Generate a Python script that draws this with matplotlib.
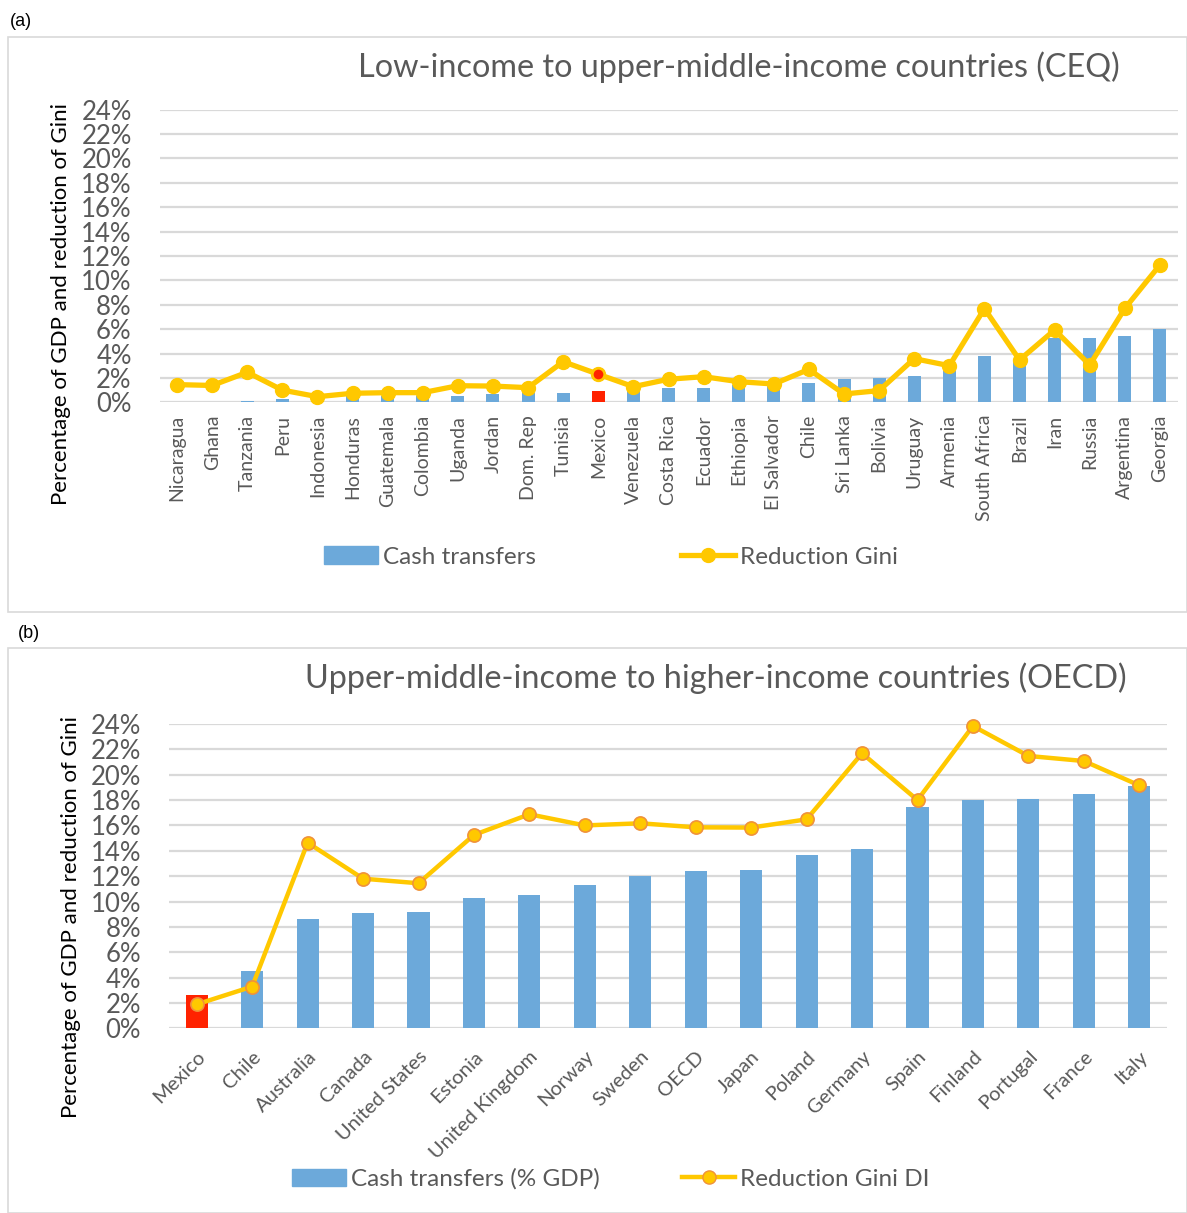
import matplotlib
matplotlib.use("Agg")
import matplotlib.pyplot as plt
from matplotlib.lines import Line2D
from matplotlib.patches import Patch, Rectangle
from matplotlib.ticker import MultipleLocator, PercentFormatter

plt.rcParams["font.family"] = ["Lato", "DejaVu Sans"]

# panel (a): CEQ countries
CEQ_COUNTRIES = [
    "Nicaragua", "Ghana", "Tanzania", "Peru", "Indonesia", "Honduras",
    "Guatemala", "Colombia", "Uganda", "Jordan", "Dom. Rep", "Tunisia",
    "Mexico", "Venezuela", "Costa Rica", "Ecuador", "Ethiopia", "El Salvador",
    "Chile", "Sri Lanka", "Bolivia", "Uruguay", "Armenia", "South Africa",
    "Brazil", "Iran", "Russia", "Argentina", "Georgia",
]
CEQ_CASH = [
    0.05, 0.05, 0.1, 0.3, 0.3, 0.5, 0.55, 0.55, 0.54, 0.7, 0.75, 0.76,
    0.93, 1.2, 1.15, 1.15, 1.4, 1.4, 1.56, 1.89, 2.0, 2.19, 2.6, 3.77,
    3.3, 5.25, 5.25, 5.44, 6.01,
]
CEQ_GINI = [
    1.45, 1.38, 2.46, 1.0, 0.46, 0.74, 0.79, 0.79, 1.36, 1.33, 1.2, 3.33,
    2.3, 1.28, 1.89, 2.1, 1.69, 1.5, 2.7, 0.68, 0.96, 3.58, 3.0, 7.68,
    3.47, 5.93, 3.06, 7.7, 11.26,
]

# panel (b): OECD countries
OECD_COUNTRIES = [
    "Mexico", "Chile", "Australia", "Canada", "United States", "Estonia",
    "United Kingdom", "Norway", "Sweden", "OECD", "Japan", "Poland",
    "Germany", "Spain", "Finland", "Portugal", "France", "Italy",
]
OECD_CASH = [
    2.63, 4.52, 8.6, 9.12, 9.17, 10.28, 10.52, 11.33, 12.04, 12.41, 12.46,
    13.67, 14.12, 17.48, 18.0, 18.09, 18.48, 19.11,
]
OECD_GINI = [
    1.89, 3.29, 14.64, 11.8, 11.44, 15.25, 16.88, 16.0, 16.17, 15.85, 15.83,
    16.48, 21.69, 18.0, 23.84, 21.48, 21.08, 19.16,
]

HIGHLIGHT = "Mexico"
BLUE = "#6CA9DA"
RED = "#FF2200"
GOLD = "#FFC800"
ORANGE = "#F0923A"
GRID = "#D9D9D9"
TEXT = "#595959"

W, H = 1187, 1213


def fx(px):
    return px / W


def fy(py):
    return 1 - py / H


def style_axes(ax, ncat, label_xy):
    ax.set_xlim(-0.5, ncat - 0.5)
    ax.set_ylim(0, 24)
    ax.yaxis.set_major_locator(MultipleLocator(2))
    ax.yaxis.set_major_formatter(PercentFormatter(decimals=0))
    ax.grid(axis="y", color=GRID, lw=1.6)
    ax.set_axisbelow(True)
    for s in ax.spines.values():
        s.set_visible(False)
    ax.tick_params(axis="both", length=0, colors=TEXT)
    ax.tick_params(axis="y", labelsize=18.5, pad=20)
    ax.set_ylabel("Percentage of GDP and reduction of Gini", fontsize=16)
    ax.yaxis.set_label_coords(*label_xy)


fig = plt.figure(figsize=(W / 100, H / 100), dpi=100)

# frames
for top, bottom in [(37, 612), (648, 1213)]:
    fig.patches.append(Rectangle((fx(8), fy(bottom)), fx(1187 - 8), (bottom - top) / H,
                                 transform=fig.transFigure, fill=False,
                                 ec=GRID, lw=1.2))
fig.text(fx(10), fy(22), "(a)", fontsize=13, family="Liberation Sans", va="center")
fig.text(fx(18), fy(633), "(b)", fontsize=13, family="Liberation Sans", va="center")

# ---- panel (a)
ax1 = fig.add_axes([fx(159.5), fy(402.3), fx(1018), 292.8 / H])
xa = range(len(CEQ_COUNTRIES))
cols_a = [RED if c == HIGHLIGHT else BLUE for c in CEQ_COUNTRIES]
ax1.bar(xa, CEQ_CASH, width=0.37, color=cols_a, zorder=2)
ax1.plot(xa, CEQ_GINI, color=GOLD, lw=3.8, marker="o", ms=10, mfc=GOLD,
         mec=GOLD, zorder=3, clip_on=False)
hi = CEQ_COUNTRIES.index(HIGHLIGHT)
ax1.plot([hi], [CEQ_GINI[hi]], "o", ms=8.5, mfc=RED, mec=GOLD, mew=1.5, zorder=4)
style_axes(ax1, len(CEQ_COUNTRIES), (-0.087, 0.336))
ax1.set_xticks(list(xa))
ax1.set_xticklabels(CEQ_COUNTRIES, rotation=90, fontsize=14, va="top")
ax1.tick_params(axis="x", pad=9)
fig.text(fx(739), fy(67), "Low-income to upper-middle-income countries (CEQ)",
         fontsize=23.3, color=TEXT, ha="center", va="center")

fig.legend(handles=[Patch(color=BLUE, label="Cash transfers"),
                    Line2D([], [], color=GOLD, lw=3.8, marker="o", ms=10,
                           label="Reduction Gini")],
           loc="center", bbox_to_anchor=(fx(611), fy(557)), ncol=2,
           frameon=False, fontsize=17.5, labelcolor=TEXT, handlelength=2.2,
           handletextpad=0.2, columnspacing=6.0)

# ---- panel (b)
ax2 = fig.add_axes([fx(169), fy(1028.3), fx(998), 304.3 / H])
xb = range(len(OECD_COUNTRIES))
cols_b = [RED if c == HIGHLIGHT else BLUE for c in OECD_COUNTRIES]
ax2.bar(xb, OECD_CASH, width=0.4, color=cols_b, zorder=2)
ax2.plot(xb, OECD_GINI, color=GOLD, lw=3.2, marker="o", ms=9.5, mfc=GOLD,
         mec=ORANGE, mew=1.2, zorder=3, clip_on=False)
style_axes(ax2, len(OECD_COUNTRIES), (-0.088, 0.366))
ax2.set_xticks(list(xb))
ax2.set_xticklabels(OECD_COUNTRIES, rotation=45, fontsize=14.5, ha="right",
                    va="top", rotation_mode="anchor")
ax2.tick_params(axis="x", pad=14)
fig.text(fx(716), fy(678), "Upper-middle-income to higher-income countries (OECD)",
         fontsize=23.3, color=TEXT, ha="center", va="center")

fig.legend(handles=[Patch(color=BLUE, label="Cash transfers (% GDP)"),
                    Line2D([], [], color=GOLD, lw=3.2, marker="o", ms=9.5,
                           mec=ORANGE, label="Reduction Gini DI")],
           loc="center", bbox_to_anchor=(fx(611), fy(1179)), ncol=2,
           frameon=False, fontsize=17.5, labelcolor=TEXT, handlelength=2.2,
           handletextpad=0.2, columnspacing=3.4)

fig.savefig("out.png", dpi=100)
